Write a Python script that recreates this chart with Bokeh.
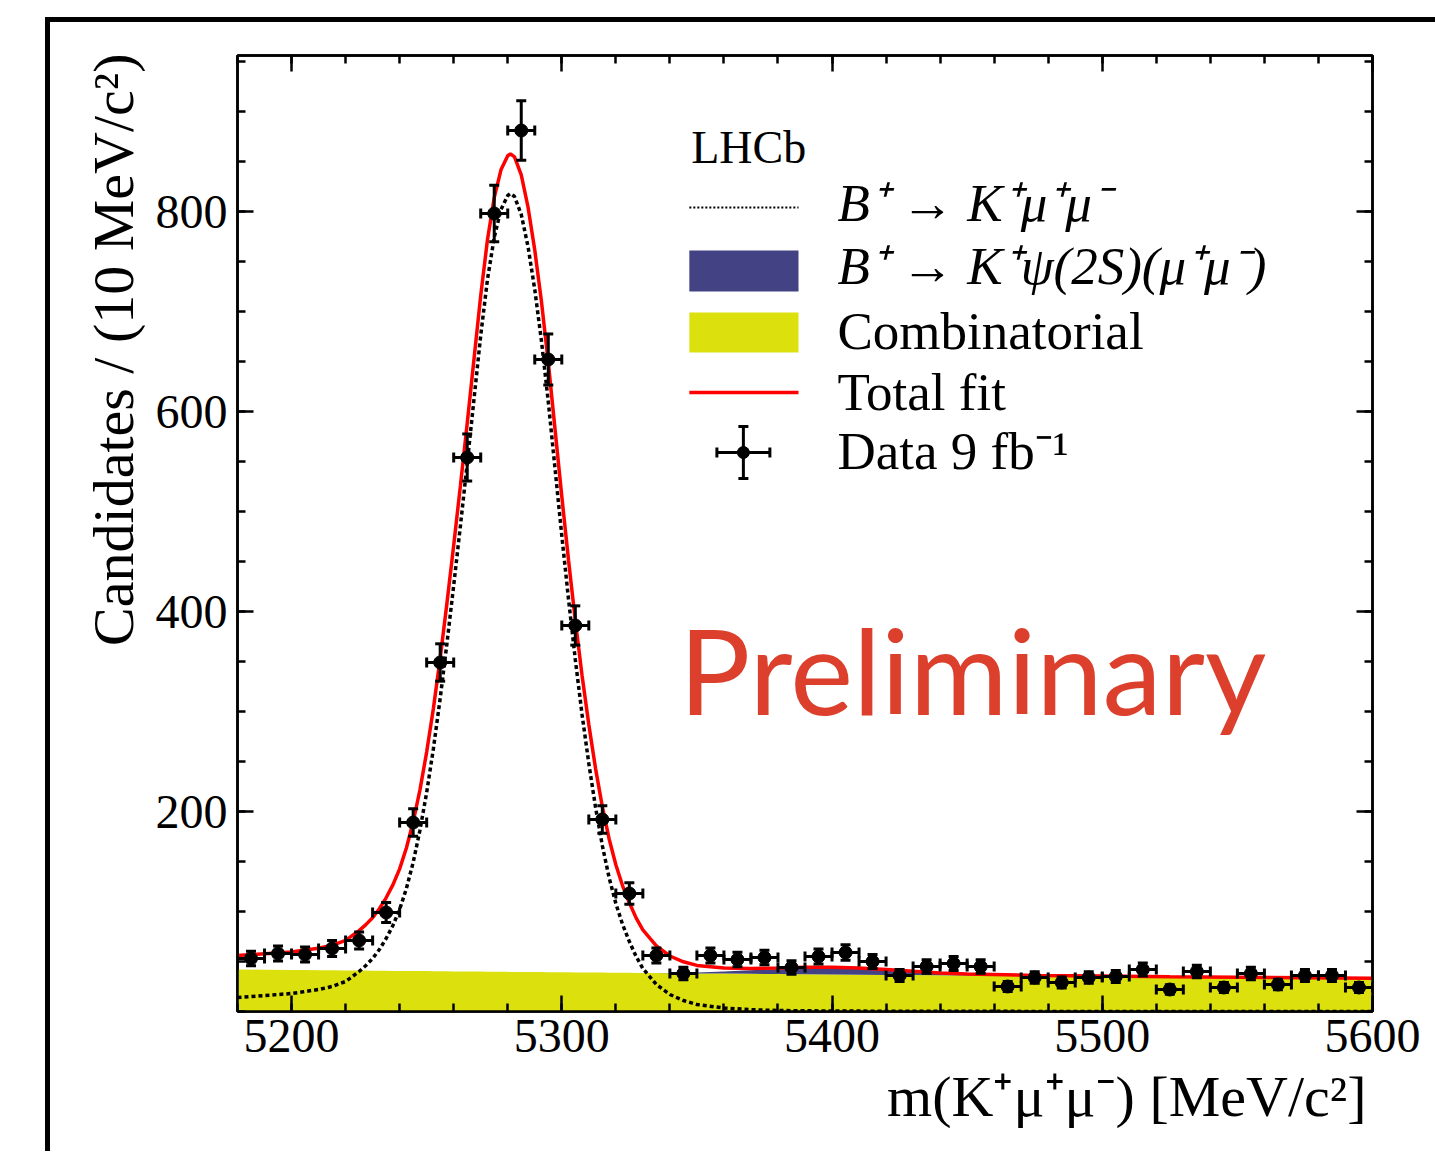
import numpy as np
from bokeh.plotting import figure
from bokeh.models import (ColumnDataSource, Whisker, TeeHead, LinearAxis,
                          FixedTicker, Label, Range1d, Title)
from bokeh.embed import file_html
from bokeh.resources import INLINE

# ---------------- data ----------------
bin_centers = [5185, 5195, 5205, 5215, 5225, 5235, 5245, 5255, 5265, 5275,
               5285, 5295, 5305, 5315, 5325, 5335, 5345, 5355, 5365, 5375,
               5385, 5395, 5405, 5415, 5425, 5435, 5445, 5455, 5465, 5475,
               5485, 5495, 5505, 5515, 5525, 5535, 5545, 5555, 5565, 5575,
               5585, 5595]
counts = [53, 58, 57, 63, 71, 99, 189, 349, 554, 798,
          881, 652, 386, 192, 118, 56, 38, 56, 52, 54,
          44, 55, 59, 50, 36, 45, 48, 45, 25, 34,
          29, 34, 35, 42, 22, 40, 24, 38, 27, 36,
          36, 24]
bin_half_width = 5.0

curve_mass = [5180, 5190, 5200, 5205, 5210, 5215, 5220,
              5225, 5227.5, 5230, 5232.5, 5235, 5237.5, 5240, 5242.5, 5245, 5247.5,
              5250, 5252.5, 5255, 5257.5, 5260, 5262.5, 5265, 5267.5, 5270, 5272.5,
              5275, 5277.5, 5280, 5281, 5282.5, 5285, 5287.5, 5290, 5292.5, 5295,
              5297.5, 5300, 5302.5, 5305, 5307.5, 5310, 5312.5, 5315, 5317.5, 5320,
              5322.5, 5325, 5327.5, 5330,
              5335, 5340, 5345, 5350,
              5360, 5370, 5380, 5390, 5400, 5410, 5420, 5430, 5440, 5450,
              5475, 5500, 5525, 5550, 5575, 5600]
signal_curve = [14, 16, 18, 20, 22, 25, 30,
                40, 46, 53, 62, 73, 86, 102, 123, 149, 181,
                219, 263, 313, 368, 426, 486, 548, 612, 676, 732,
                774, 802, 816, 818, 815, 797, 765, 722, 670, 610,
                543, 476, 412, 352, 297, 248, 204, 166, 134, 108,
                87, 70, 55, 43,
                27, 17, 11, 7,
                3.5, 1.8, 1.0, 0.7, 0.5, 0.4, 0.3, 0.3, 0.2, 0.2,
                0.1, 0.1, 0.1, 0.1, 0.1, 0.1]
comb_curve = [42.0, 41.8, 41.5, 41.4, 41.3, 41.2, 41.1,
              40.9, 40.9, 40.8, 40.8, 40.7, 40.6, 40.6, 40.5, 40.5, 40.4,
              40.4, 40.3, 40.2, 40.2, 40.1, 40.1, 40.0, 40.0, 39.9, 39.8,
              39.8, 39.7, 39.7, 39.6, 39.6, 39.6, 39.5, 39.4, 39.4, 39.3,
              39.3, 39.2, 39.2, 39.1, 39.1, 39.0, 38.9, 38.9, 38.8, 38.8,
              38.7, 38.7, 38.6, 38.6,
              38.5, 38.3, 38.2, 38.1,
              37.9, 37.7, 37.5, 37.3, 37.0, 36.8, 36.6, 36.4, 36.2, 36.0,
              35.5, 35.0, 34.5, 34.0, 33.5, 33.0]
psi2s_curve = [0, 0, 0, 0, 0, 0, 0,
               0, 0, 0, 0, 0, 0, 0, 0, 0, 0,
               0, 0, 0, 0, 0, 0, 0, 0, 0, 0,
               0, 0, 0, 0, 0, 0, 0, 0, 0, 0,
               0, 0, 0, 0, 0, 0, 0, 0, 0, 0,
               0, 0, 0, 0,
               0.1, 0.2, 0.5, 1.0,
               2.2, 3.6, 5.0, 6.2, 6.8, 6.4, 5.2, 3.6, 2.2, 1.3,
               0.5, 0.3, 0.2, 0.2, 0.1, 0.1]

x_ticks = [5200, 5300, 5400, 5500, 5600]
y_ticks = [200, 400, 600, 800]

legend_labels = ["B\u207a \u2192 K\u207a\u03bc\u207a\u03bc\u207b",
                 "B\u207a \u2192 K\u207a\u03c8(2S)(\u03bc\u207a\u03bc\u207b)",
                 "Combinatorial", "Total fit", "Data 9 fb\u207b\u00b9"]

# ---------------- styles ----------------
SERIF = "Liberation Serif"
YELLOW = "#dce10e"
BLUE = "#424284"
RED = "#ff0000"

assert len(curve_mass) == len(signal_curve) == len(comb_curve) == len(psi2s_curve)

m = np.array(curve_mass, dtype=float)
sig = np.array(signal_curve, dtype=float)
comb = np.array(comb_curve, dtype=float)
psi = np.array(psi2s_curve, dtype=float)
total = sig + comb + psi

cnt = np.array(counts, dtype=float)
xc = np.array(bin_centers, dtype=float)
err = np.sqrt(cnt)
data_src = ColumnDataSource(dict(x=xc, y=cnt, xlo=xc - bin_half_width, xhi=xc + bin_half_width,
                                 ylo=cnt - err, yhi=cnt + err))

p = figure(frame_width=1135, frame_height=956, x_range=Range1d(5180, 5600), y_range=Range1d(0, 956),
           output_backend="svg", toolbar_location=None,
           min_border_left=187, min_border_right=63, min_border_top=33, min_border_bottom=140,
           margin=(17, 0, 0, 45),
           styles={"border-left": "5px solid black", "border-top": "5px solid black"})
p.background_fill_color = "white"
p.border_fill_color = "white"
p.xgrid.visible = False
p.ygrid.visible = False
p.outline_line_color = "black"
p.outline_line_width = 2.5


def style_axis(ax, ticks, labels=True):
    ax.axis_line_width = 2.5
    ax.axis_line_color = "black"
    ax.major_tick_in = 16
    ax.major_tick_out = 0
    ax.minor_tick_in = 8
    ax.minor_tick_out = 0
    ax.major_tick_line_width = 2.5
    ax.minor_tick_line_width = 2.5
    if labels:
        ax.major_label_text_font = SERIF
        ax.major_label_text_font_size = "48px"
        ax.major_label_text_color = "black"
    else:
        ax.major_label_overrides = {t: "" for t in ticks}
        ax.major_label_text_font_size = "1px"
        ax.major_label_standoff = 0


p.xaxis.ticker = FixedTicker(ticks=x_ticks, minor_ticks=list(range(5180, 5601, 20)))
p.yaxis.ticker = FixedTicker(ticks=y_ticks, minor_ticks=list(range(0, 957, 50)))
style_axis(p.xaxis[0], x_ticks)
style_axis(p.yaxis[0], y_ticks)
p.xaxis.major_label_standoff = 8
p.yaxis.major_label_standoff = 10

top_ax = LinearAxis(ticker=FixedTicker(ticks=x_ticks, minor_ticks=list(range(5180, 5601, 20))))
right_ax = LinearAxis(ticker=FixedTicker(ticks=y_ticks, minor_ticks=list(range(0, 957, 50))))
style_axis(top_ax, x_ticks, labels=False)
style_axis(right_ax, y_ticks, labels=False)
p.add_layout(top_ax, "above")
p.add_layout(right_ax, "right")

# ---------------- axis titles ----------------
p.add_layout(Title(text="Candidates / (10 MeV/c\u00b2)", align="right", text_font=SERIF,
                   text_font_size="58px", text_font_style="normal", text_color="black",
                   standoff=13, offset=-2), "left")
p.add_layout(Title(text="m(K\u207a\u03bc\u207a\u03bc\u207b) [MeV/c\u00b2]", align="right",
                   text_font=SERIF, text_font_size="58px", text_font_style="normal",
                   text_color="black", standoff=14, offset=6), "below")

# ---------------- fit components ----------------
p.varea(x=m, y1=np.zeros_like(comb), y2=comb, fill_color=YELLOW)
p.varea(x=m, y1=comb, y2=comb + psi, fill_color=BLUE)
p.line(m, sig, line_color="black", line_width=3.5, line_dash="4 3")
p.line(m, total, line_color=RED, line_width=3.5)

# ---------------- data points ----------------
head = dict(size=10, line_width=3, line_color="black")
p.add_layout(Whisker(source=data_src, base="y", lower="xlo", upper="xhi", dimension="width",
                     line_width=3, line_color="black", level="annotation",
                     lower_head=TeeHead(**head), upper_head=TeeHead(**head)))
p.add_layout(Whisker(source=data_src, base="x", lower="ylo", upper="yhi", dimension="height",
                     line_width=3, line_color="black", level="annotation",
                     lower_head=TeeHead(**head), upper_head=TeeHead(**head)))
p.scatter("x", "y", source=data_src, size=13, color="black", level="annotation")

# ---------------- legend (manual, ROOT style) ----------------
kx0, kx1 = 5347.2, 5387.6
tx = 5402.0
p.add_layout(Label(x=5347.9, y=864, text="LHCb", text_font=SERIF, text_font_size="46px",
                   text_color="black", text_align="left", text_baseline="alphabetic"))
p.line([kx0, kx1], [804, 804], line_color="black", line_width=2, line_dash="2 2")
p.quad(left=kx0, right=kx1, bottom=720, top=761, fill_color=BLUE, line_color=None)
p.quad(left=kx0, right=kx1, bottom=659, top=699, fill_color=YELLOW, line_color=None)
p.line([kx0, kx1], [619, 619], line_color=RED, line_width=3.5)
leg_src = ColumnDataSource(dict(x=[5367.2], y=[559], xlo=[5357.4], xhi=[5377.0], ylo=[533], yhi=[585]))
p.add_layout(Whisker(source=leg_src, base="y", lower="xlo", upper="xhi", dimension="width",
                     line_width=3, line_color="black", level="annotation",
                     lower_head=TeeHead(**head), upper_head=TeeHead(**head)))
p.add_layout(Whisker(source=leg_src, base="x", lower="ylo", upper="yhi", dimension="height",
                     line_width=3, line_color="black", level="annotation",
                     lower_head=TeeHead(**head), upper_head=TeeHead(**head)))
p.scatter("x", "y", source=leg_src, size=12, color="black", level="annotation")

baselines = [809, 746, 681, 620, 561]
for i, (lab, yb) in enumerate(zip(legend_labels, baselines)):
    p.add_layout(Label(x=tx, y=yb, text=lab, text_font=SERIF, text_font_size="53px",
                       text_font_style="italic" if i < 2 else "normal", text_color="black",
                       text_align="left", text_baseline="alphabetic"))

# ---------------- Preliminary ----------------
p.add_layout(Label(x=5343.4, y=343, text="Preliminary", text_font="Lato", text_font_size="119px",
                   text_color="#dd3f2d", text_align="left", text_baseline="alphabetic"))

open("out.html", "w").write(file_html(p, INLINE))
